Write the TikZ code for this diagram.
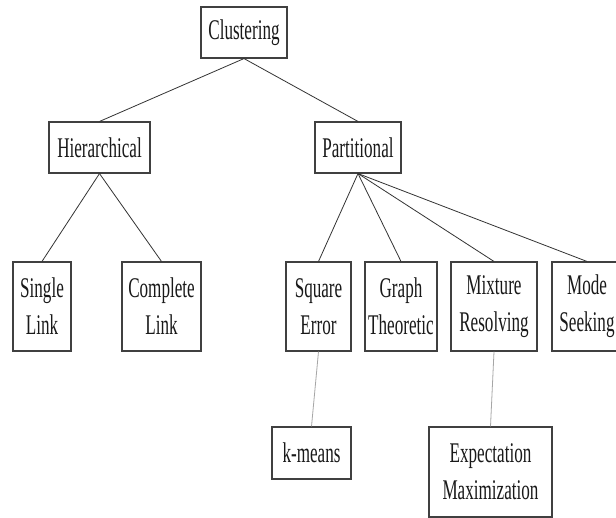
\documentclass[tikz,border=0pt]{standalone}
\usepackage{fontspec}
\setmainfont{Liberation Serif}[FakeStretch=0.6]
\usepackage{tikz}
\usetikzlibrary{calc}

\begin{document}
\begin{tikzpicture}[
        x=1pt, y=-1pt,
        tree box/.style={draw=black!75, line width=1.1pt, fill=white, text=black!90, inner sep=2pt,
            font=\fontsize{28.5}{37}\selectfont, align=center, minimum height=51pt},
        tall box/.style={tree box, minimum height=89pt},
        tree link/.style={draw=black!80, line width=0.8pt},
        sub link/.style={draw=black!35, line width=0.8pt}
    ]
    \clip (0,0) rectangle (616,517);
    \fill[white] (0,0) rectangle (616,517);

    % root and first level
    \node[tree box, minimum width=86pt] (clus) at (244,32.5) {Clustering};
    \node[tree box, minimum width=101pt] (hier) at (99.5,147.5) {Hierarchical};
    \node[tree box, minimum width=86pt] (part) at (358,147.5) {Partitional};

    % second level
    \node[tall box, minimum width=58pt] (single) at (42,306.5) {Single\\Link};
    \node[tall box, minimum width=79pt] (complete) at (161.5,306.5) {Complete\\Link};
    \node[tall box, minimum width=65pt] (square) at (318.5,306.5) {Square\\Error};
    \node[tall box, minimum width=72pt] (graph) at (401,306.5) {Graph\\Theoretic};
    \node[tall box, minimum width=86pt] (mixture) at (494,306.5) {Mixture\\Resolving};
    \node[tall box, minimum width=70pt] (mode) at (587,306.5) {Mode\\Seeking};

    % third level
    \node[tree box, minimum width=79pt, minimum height=52pt] (kmeans) at (311.5,453) {k-means};
    \node[tree box, minimum width=123pt, minimum height=90pt] (expect) at (490.5,472) {Expectation\\Maximization};

    \foreach \c in {hier,part} {
        \draw[tree link] (clus.south) -- (\c.north);
    }
    \foreach \c in {single,complete} {
        \draw[tree link] (hier.south) -- (\c.north);
    }
    \foreach \c in {square,graph,mixture,mode} {
        \draw[tree link] (part.south) -- (\c.north);
    }
    \draw[sub link] (square.south) -- (kmeans.north);
    \draw[sub link] (mixture.south) -- (expect.north);
\end{tikzpicture}
\end{document}
